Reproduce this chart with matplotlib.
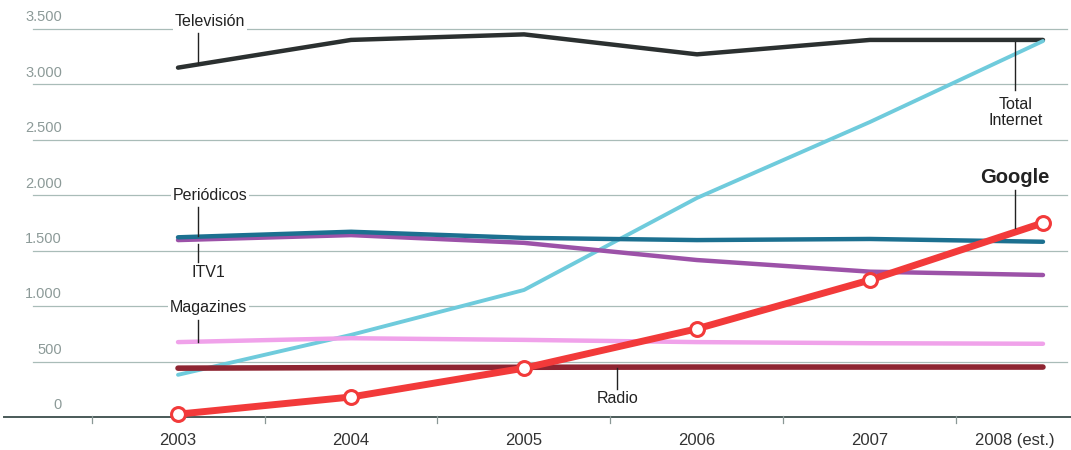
import numpy as np
import matplotlib
matplotlib.use("Agg")
import matplotlib.pyplot as plt

plt.rcParams['font.family'] = ['Liberation Sans', 'DejaVu Sans']   # narrower than DejaVu, closer to the print font

# data
years = [2003, 2004, 2005, 2006, 2007, 2008]
year_labels = ["2003", "2004", "2005", "2006", "2007", "2008 (est.)"]
y_ticks = [0, 500, 1000, 1500, 2000, 2500, 3000, 3500]
y_tick_labels = ["0", "500", "1.000", "1.500", "2.000", "2.500", "3.000", "3.500"]

television = [3150, 3400, 3450, 3270, 3400, 3400]
internet = [380, 740, 1145, 1975, 2660, 3390]
periodicos = [1620, 1670, 1615, 1595, 1605, 1580]
itv1 = [1595, 1640, 1570, 1415, 1310, 1280]
magazines = [675, 710, 695, 675, 665, 660]
radio = [440, 445, 448, 450, 450, 450]
google = [25, 180, 440, 795, 1235, 1750]

fig = plt.figure(figsize=(10.71, 4.5), dpi=100)
ax = fig.add_axes([0, 0, 1, 1])
ax.set_xlim(2001.971, 2008.162)
ax.set_ylim(-298, 3760)
ax.axis("off")

# gridlines + axis line
grid_c = "#a9bcb8"
for v in y_ticks[1:]:
    ax.plot([2002.16, 2008.14], [v, v], color=grid_c, lw=0.9, zorder=1)
ax.plot([2001.995, 2008.162], [0, 0], color="#4a5a58", lw=1.4, zorder=1)
for xt in np.arange(2002.5, 2008.0, 1.0):
    ax.plot([xt, xt], [10, -55], color="#8a9896", lw=0.9, zorder=1)

# tick labels
for v, lab in zip(y_ticks, y_tick_labels):
    ax.text(2002.33, v + 105, lab, ha="right", va="center", fontsize=10.5, color="#8c9a98")
for x, lab in zip(years, year_labels):
    if lab.endswith("(est.)"):
        x = x - 0.165   # last label is shifted left so it fits
    ax.text(x, -215, lab, ha="center", va="center", fontsize=12, color="#333333")

# series
ax.plot(years, television, color="#2b3030", lw=3.2, solid_capstyle="round", zorder=3)
ax.plot(years, internet, color="#6fcbdc", lw=2.8, solid_capstyle="round", zorder=3)
ax.plot(years, itv1, color="#9c52a8", lw=3.2, solid_capstyle="round", zorder=3)
ax.plot(years, periodicos, color="#1c7090", lw=3.2, solid_capstyle="round", zorder=3)
ax.plot(years, magazines, color="#f0a2ea", lw=3.2, solid_capstyle="round", zorder=3)
ax.plot(years, radio, color="#8e2532", lw=4.0, solid_capstyle="round", zorder=3)
ax.plot(years, google, color="#f23a3a", lw=5.0, solid_capstyle="round", zorder=4,
        marker="o", markersize=10, markerfacecolor="white", markeredgecolor="#f23a3a",
        markeredgewidth=2.2)

# labels with leader lines
lab_kw = dict(ha="center", va="center", fontsize=11.5, color="#222222", zorder=5,
              bbox=dict(facecolor="white", edgecolor="none", pad=1.5))
ax.text(2003.185, 3565, "Televisión", **lab_kw)
ax.plot([2003.116, 2003.116], [3460, 3185], color="#222222", lw=1.0, zorder=5)
ax.text(2003.185, 1995, "Periódicos", **lab_kw)
ax.plot([2003.116, 2003.116], [1895, 1630], color="#222222", lw=1.0, zorder=5)
ax.text(2003.175, 1305, "ITV1", **lab_kw)
ax.plot([2003.116, 2003.116], [1560, 1400], color="#222222", lw=1.0, zorder=5)
ax.text(2003.175, 985, "Magazines", **lab_kw)
ax.plot([2003.116, 2003.116], [875, 680], color="#222222", lw=1.0, zorder=5)
ax.text(2005.54, 170, "Radio", **lab_kw)
ax.plot([2005.54, 2005.54], [440, 250], color="#222222", lw=1.0, zorder=5)
ax.text(2007.84, 2745, "Total\nInternet", linespacing=1.1, **lab_kw)
ax.plot([2007.84, 2007.84], [3380, 2950], color="#222222", lw=1.0, zorder=5)
ax.text(2007.835, 2160, "Google", ha="center", va="center", fontsize=14.5, fontweight="bold",
        color="#222222", zorder=5)
ax.plot([2007.84, 2007.84], [2045, 1705], color="#222222", lw=1.0, zorder=5)

fig.savefig("out.png", dpi=100)
